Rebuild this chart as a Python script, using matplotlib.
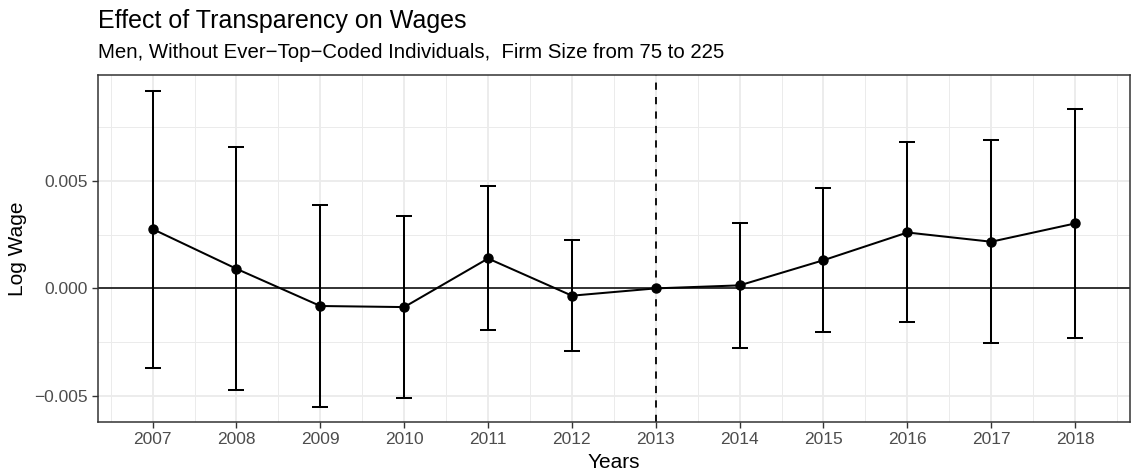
import matplotlib
matplotlib.use("Agg")
import matplotlib.pyplot as plt
import numpy as np

years = [2007, 2008, 2009, 2010, 2011, 2012, 2013, 2014, 2015, 2016, 2017, 2018]
estimate = [0.00276, 0.00091, -0.00082, -0.00087, 0.00139, -0.00034, 0.0,
            0.00014, 0.00131, 0.00260, 0.00217, 0.00302]
ci_upper = [0.00920, 0.00657, 0.00386, 0.00335, 0.00475, 0.00223, 0.0,
            0.00303, 0.00469, 0.00680, 0.00688, 0.00833]
ci_lower = [-0.00369, -0.00474, -0.00550, -0.00508, -0.00195, -0.00293, 0.0,
            -0.00277, -0.00204, -0.00158, -0.00254, -0.00230]
y_ticks = [-0.005, 0.000, 0.005]
y_ticklabels = ["\u22120.005", "0.000", "0.005"]
event_year = 2013

plt.rcParams['font.family'] = ['Liberation Sans', 'DejaVu Sans']

W, H = 1131, 474
fig = plt.figure(figsize=(W / 100, H / 100), dpi=100)
ax = fig.add_axes([97.7 / W, 1 - 422.3 / H, (1130 - 97.7) / W, (422.3 - 74.7) / H])

yrs = np.array(years, dtype=float)
est = np.array(estimate)
up = np.array(ci_upper)
lo = np.array(ci_lower)

ax.set_xlim(2006.345, 2018.655)
ax.set_ylim(-0.00623, 0.00994)

# grid
for yv in [-0.0025, 0.0025, 0.0075]:
    ax.axhline(yv, color='#EBEBEB', lw=0.7, zorder=0)
for yv in y_ticks:
    ax.axhline(yv, color='#EBEBEB', lw=1.3, zorder=0)
for xv in np.arange(2006.5, 2019.0, 1.0):
    ax.axvline(xv, color='#EBEBEB', lw=0.7, zorder=0)
for xv in years:
    ax.axvline(xv, color='#EBEBEB', lw=1.3, zorder=0)

ax.axhline(0, color='black', lw=1.1, zorder=1)
ax.axvline(event_year, color='black', lw=1.3, ls=(0, (4, 4)), zorder=1)

mask = up != lo
ax.errorbar(yrs[mask], est[mask], yerr=[est[mask] - lo[mask], up[mask] - est[mask]],
            fmt='none', ecolor='black', elinewidth=1.45, capsize=6, capthick=1.45, zorder=2)
ax.plot(yrs, est, color='black', lw=1.45, zorder=3)
ax.plot(yrs, est, 'o', color='black', ms=6.5, zorder=4)

ax.set_xticks(years)
ax.set_xticklabels([str(y) for y in years])
ax.set_yticks(y_ticks)
ax.set_yticklabels(y_ticklabels)
ax.tick_params(axis='both', length=4.3, width=1.0, color='#333333', labelcolor='#4D4D4D',
               labelsize=12.5, pad=3)
for sp in ax.spines.values():
    sp.set_color('#333333')
    sp.set_linewidth(1.1)

fig.text(614 / W, 1 - 468 / H, "Years", ha='center', va='baseline', fontsize=15)
fig.text(17.5 / W, 1 - 248.5 / H, "Log Wage", ha='center', va='center', rotation=90, fontsize=15)
fig.text(97.7 / W, 1 - 28.3 / H, "Effect of Transparency on Wages", ha='left', va='baseline', fontsize=18)
fig.text(97.7 / W, 1 - 58.3 / H,
         "Men, Without Ever\u2212Top\u2212Coded Individuals,  Firm Size from 75 to 225",
         ha='left', va='baseline', fontsize=14.7)

fig.savefig("out.png", dpi=100)
